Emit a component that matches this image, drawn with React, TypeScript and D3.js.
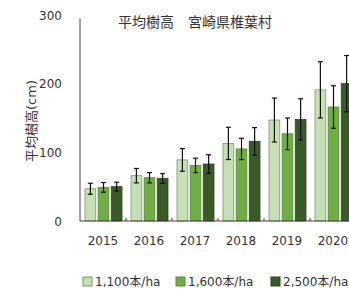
import { useEffect, useRef } from "react";
import * as d3 from "d3";

const years = ["2015", "2016", "2017", "2018", "2019", "2020"];
const series = ["1,100本/ha", "1,600本/ha", "2,500本/ha"];
const mean1100 = [47, 66, 89, 113, 147, 191];
const sd1100 = [8, 10.5, 16.5, 23.5, 32, 41];
const mean1600 = [49, 63, 81, 105, 127, 166];
const sd1600 = [7, 7.5, 10.5, 15.5, 23, 31];
const mean2500 = [50, 62, 83, 116, 148, 200];
const sd2500 = [6.5, 7, 13.5, 20, 30, 41];
const yTicks = [0, 100, 200, 300];

const fills = ["#c5e0b4", "#70ad47", "#3a5a27"];
const strokes = ["#7d9a6c", "#5a8c38", "#2c451d"];

const latin = "'DejaVu Sans', Verdana, sans-serif";
const jp = "'DejaVu Sans', 'Noto Sans CJK JP', sans-serif";

export default function App() {
  const svgRef = useRef<SVGSVGElement>(null);

  useEffect(() => {
    const width = 349;
    const height = 290;
    const svg = d3.select(svgRef.current);
    svg.selectAll("*").remove();
    svg.attr("width", width).attr("height", height);

    const means = [mean1100, mean1600, mean2500];
    const sds = [sd1100, sd1600, sd2500];
    const data = years.flatMap((yr, i) =>
      series.map((s, k) => ({ yr, s, k, v: means[k][i], e: sds[k][i] }))
    );

    const x = d3.scaleBand().domain(years).range([80, 80 + 46 * years.length]);
    const xs = d3.scaleBand().domain(series).range([5, 42]).paddingInner(0.18);
    const y = d3.scaleLinear().domain([0, 300]).range([221, 15]);

    svg.append("rect").attr("width", width).attr("height", height).attr("fill", "#fff");

    // title
    svg.append("text")
      .attr("x", 118).attr("y", 27)
      .attr("font-family", jp).attr("font-size", 14).attr("fill", "#333")
      .text("平均樹高\u3000宮崎県椎葉村");

    // y axis label
    svg.append("text")
      .attr("transform", `translate(36,${121}) rotate(-90)`)
      .attr("text-anchor", "middle")
      .attr("font-family", jp).attr("font-size", 13).attr("fill", "#333")
      .text("平均樹高(cm)");

    // y tick labels
    svg.selectAll(".ytl").data(yTicks).enter().append("text")
      .attr("x", 62).attr("y", d => y(d) + 4.5)
      .attr("text-anchor", "end")
      .attr("font-family", latin).attr("font-size", 12).attr("fill", "#333")
      .text(d => d);

    // bars
    svg.selectAll(".bar").data(data).enter().append("rect")
      .attr("x", d => x(d.yr)! + xs(d.s)!)
      .attr("y", d => y(d.v))
      .attr("width", xs.bandwidth())
      .attr("height", d => y(0) - y(d.v))
      .attr("fill", d => fills[d.k])
      .attr("stroke", d => strokes[d.k])
      .attr("stroke-width", 0.8);

    // error bars
    const eb = svg.selectAll(".err").data(data).enter().append("g")
      .attr("stroke", "#111").attr("stroke-width", 1.2);
    const cx = d => x(d.yr)! + xs(d.s)! + xs.bandwidth() / 2;
    eb.append("line")
      .attr("x1", cx).attr("x2", cx)
      .attr("y1", d => y(d.v + d.e)).attr("y2", d => y(d.v - d.e));
    eb.append("line")
      .attr("x1", d => cx(d) - 2.5).attr("x2", d => cx(d) + 2.5)
      .attr("y1", d => y(d.v + d.e)).attr("y2", d => y(d.v + d.e));
    eb.append("line")
      .attr("x1", d => cx(d) - 2.5).attr("x2", d => cx(d) + 2.5)
      .attr("y1", d => y(d.v - d.e)).attr("y2", d => y(d.v - d.e));

    // axes
    svg.append("line")
      .attr("x1", 80).attr("x2", 80).attr("y1", y(295)).attr("y2", y(0))
      .attr("stroke", "#444").attr("stroke-width", 1);
    svg.append("line")
      .attr("x1", 80).attr("x2", width).attr("y1", y(0)).attr("y2", y(0))
      .attr("stroke", "#444").attr("stroke-width", 1);
    svg.selectAll(".xt").data(years.slice(1)).enter().append("line")
      .attr("x1", d => x(d)!).attr("x2", d => x(d)!)
      .attr("y1", y(0)).attr("y2", y(0) - 3)
      .attr("stroke", "#444");

    // x labels
    svg.selectAll(".xl").data(years).enter().append("text")
      .attr("x", d => x(d)! + x.bandwidth() / 2)
      .attr("y", 245)
      .attr("text-anchor", "middle")
      .attr("font-family", latin).attr("font-size", 12).attr("fill", "#333")
      .text(d => d);

    // legend
    const legX = [83, 176, 271];
    const lg = svg.selectAll(".lg").data(series).enter().append("g")
      .attr("transform", (d, i) => `translate(${legX[i]},277)`);
    lg.append("rect")
      .attr("width", 9).attr("height", 9)
      .attr("fill", (d, i) => fills[i])
      .attr("stroke", (d, i) => strokes[i]);
    lg.append("text")
      .attr("x", 12).attr("y", 9)
      .attr("font-family", jp).attr("font-size", 12).attr("fill", "#333")
      .text(d => d);
  }, []);

  return <svg ref={svgRef} style={{ position: "fixed", left: 0, top: 0 }}></svg>;
}
